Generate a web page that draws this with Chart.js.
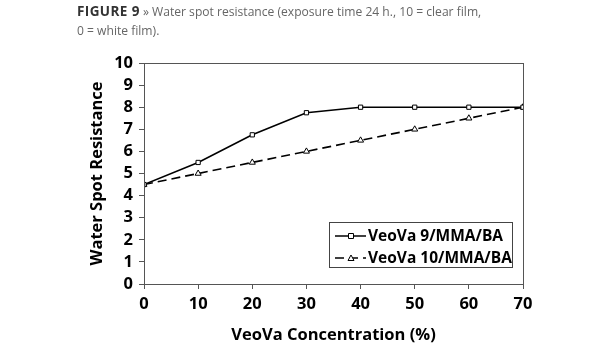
<!DOCTYPE html>
<html>
<head>
<meta charset="utf-8">
<script src="https://cdn.jsdelivr.net/npm/chart.js@4"></script>
<style>
  body { margin: 0; background: #fff; }
  #wrap { position: relative; width: 615px; height: 350px; }
  #cap { position: absolute; left: 77px; top: 2px; font-family: "Open Sans", sans-serif; font-size: 12.1px; line-height: 19px; color: #666; }
  #cap b { color: #333; font-size: 13.5px; letter-spacing: 0.4px; }
  canvas { position: absolute; left: 0; top: 0; }
</style>
</head>
<body>
<div id="wrap">
  <canvas id="myChart" width="615" height="350"></canvas>
  <div id="cap"><b>FIGURE 9</b> » Water spot resistance (exposure time 24 h., 10 = clear film,<br>0 = white film).</div>
</div>
<script>
// Datos
const concentraciones = [0, 10, 20, 30, 40, 50, 60, 70];
const veova9 = [4.5, 5.5, 6.75, 7.75, 8, 8, 8, 8];
const veova10 = [4.5, 5, 5.5, 6, 6.5, 7, 7.5, 8];
const nombres = ["VeoVa 9/MMA/BA", "VeoVa 10/MMA/BA"];

const fuente = { family: "Open Sans", weight: "bold", size: 16.5 };
const fuenteTitulo = { family: "Open Sans", weight: "bold", size: 16.5 };

// Caja alrededor del area del grafico
const cajaPlugin = {
  id: "caja",
  afterDraw(chart) {
    const { ctx, chartArea: a } = chart;
    ctx.save();
    ctx.strokeStyle = "#555";
    ctx.lineWidth = 1;
    ctx.strokeRect(Math.round(a.left) + 0.5, Math.round(a.top) + 0.5, Math.round(a.right - a.left), Math.round(a.bottom - a.top));
    ctx.restore();
  }
};

// Leyenda dentro del grafico, abajo a la derecha
const leyendaPlugin = {
  id: "leyendaDentro",
  afterDraw(chart) {
    const { ctx } = chart;
    const x = 329, y = 222, w = 183, h = 45;
    ctx.save();
    ctx.fillStyle = "#fff";
    ctx.fillRect(x, y, w, h);
    ctx.strokeStyle = "#444";
    ctx.lineWidth = 1;
    ctx.strokeRect(x + 0.5, y + 0.5, w, h);
    ctx.font = "bold 15.5px 'Open Sans'";
    ctx.textBaseline = "middle";
    chart.data.datasets.forEach((ds, i) => {
      const ly = y + 14 + i * 22;
      ctx.strokeStyle = "#000";
      ctx.lineWidth = 1.5;
      ctx.setLineDash(ds.borderDash || []);
      ctx.beginPath();
      ctx.moveTo(x + 6, ly);
      ctx.lineTo(x + 37, ly);
      ctx.stroke();
      ctx.setLineDash([]);
      ctx.fillStyle = "#fff";
      ctx.lineWidth = 1;
      ctx.beginPath();
      if (ds.pointStyle === "rect") {
        ctx.rect(x + 19.5, ly - 2.5, 5, 5);
      } else {
        ctx.moveTo(x + 22, ly - 3);
        ctx.lineTo(x + 25, ly + 2.5);
        ctx.lineTo(x + 19, ly + 2.5);
        ctx.closePath();
      }
      ctx.fill();
      ctx.stroke();
      ctx.fillStyle = "#000";
      ctx.fillText(ds.label, x + 39, ly + 1);
    });
    ctx.restore();
  }
};

const datos = {
  datasets: [
    {
      label: nombres[0],
      data: concentraciones.map((c, i) => ({ x: c, y: veova9[i] })),
      borderColor: "#000",
      borderWidth: 1.6,
      pointStyle: "rect",
      pointRadius: 3,
      pointBackgroundColor: "#fff",
      pointBorderColor: "#000",
      pointBorderWidth: 1
    },
    {
      label: nombres[1],
      data: concentraciones.map((c, i) => ({ x: c, y: veova10[i] })),
      borderColor: "#000",
      borderWidth: 1.6,
      borderDash: [9, 5],
      pointStyle: "triangle",
      pointRadius: 3.5,
      pointBackgroundColor: "#fff",
      pointBorderColor: "#000",
      pointBorderWidth: 1
    }
  ]
};

const config = {
  type: "line",
  data: datos,
  options: {
    responsive: false,
    animation: false,
    layout: { padding: { left: 0, right: 92, top: 63, bottom: 0 } },
    plugins: { legend: { display: false }, tooltip: { enabled: false } },
    scales: {
      x: {
        type: "linear",
        min: 0, max: 70,
        afterFit(scale) { scale.height = 66; },
        ticks: { stepSize: 10, autoSkip: false, maxRotation: 0, color: "#000", font: fuente, padding: 5 },
        grid: { drawOnChartArea: false, tickLength: 5, color: "#555" },
        border: { color: "#555" },
        title: { display: true, text: "VeoVa Concentration (%)", color: "#000", font: fuenteTitulo, padding: { bottom: 5 } }
      },
      y: {
        min: 0, max: 10,
        afterFit(scale) { scale.width = 144; },
        ticks: { stepSize: 1, autoSkip: false, color: "#000", font: fuente, padding: 6 },
        grid: { drawOnChartArea: false, tickLength: 5, color: "#555" },
        border: { color: "#555" },
        title: { display: true, text: "Water Spot Resistance", color: "#000", font: fuenteTitulo, padding: { top: 87 } }
      }
    }
  },
  plugins: [cajaPlugin, leyendaPlugin]
};

new Chart(document.querySelector("#myChart"), config);
</script>
</body>
</html>
